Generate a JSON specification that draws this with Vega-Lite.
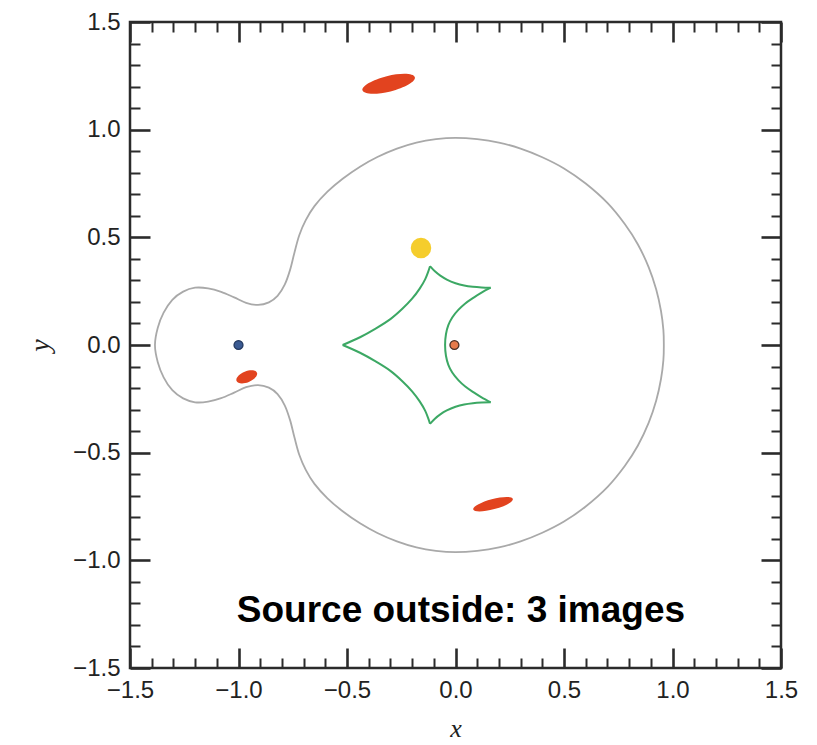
{
  "$schema": "https://vega.github.io/schema/vega-lite/v6.json",
  "autosize": {"type": "none"},
  "padding": {"left": 130, "top": 22, "right": 36, "bottom": 77},
  "width": 651,
  "height": 646,
  "background": "white",
  "config": {
    "view": {"stroke": "#2b2b2b", "strokeWidth": 2.5},
    "axis": {
      "grid": false,
      "domain": false,
      "labelFont": "Liberation Sans",
      "labelFontSize": 24,
      "labelColor": "#222222",
      "labelFlush": false,
      "labelOverlap": false,
      "labelBound": false,
      "tickColor": "#2b2b2b",
      "titleColor": "#222222"
    }
  },
  "datasets": {
    "crit": [
      {"o": 0, "x": -1.385, "y": 0.0},
      {"o": 1, "x": -1.372, "y": 0.08},
      {"o": 2, "x": -1.345, "y": 0.15},
      {"o": 3, "x": -1.305, "y": 0.21},
      {"o": 4, "x": -1.255, "y": 0.248},
      {"o": 5, "x": -1.2, "y": 0.266},
      {"o": 6, "x": -1.14, "y": 0.263},
      {"o": 7, "x": -1.08, "y": 0.247},
      {"o": 8, "x": -1.02, "y": 0.221},
      {"o": 9, "x": -0.965, "y": 0.196},
      {"o": 10, "x": -0.91, "y": 0.186},
      {"o": 11, "x": -0.86, "y": 0.198},
      {"o": 12, "x": -0.82, "y": 0.228},
      {"o": 13, "x": -0.787, "y": 0.28},
      {"o": 14, "x": -0.762, "y": 0.35},
      {"o": 15, "x": -0.742, "y": 0.43},
      {"o": 16, "x": -0.72, "y": 0.51},
      {"o": 17, "x": -0.69, "y": 0.58},
      {"o": 18, "x": -0.65, "y": 0.645},
      {"o": 19, "x": -0.59, "y": 0.712},
      {"o": 20, "x": -0.52, "y": 0.772},
      {"o": 21, "x": -0.44, "y": 0.828},
      {"o": 22, "x": -0.36, "y": 0.873},
      {"o": 23, "x": -0.27, "y": 0.912},
      {"o": 24, "x": -0.18, "y": 0.94},
      {"o": 25, "x": -0.09, "y": 0.956},
      {"o": 26, "x": 0.0, "y": 0.962},
      {"o": 27, "x": 0.1, "y": 0.956},
      {"o": 28, "x": 0.2, "y": 0.94},
      {"o": 29, "x": 0.3, "y": 0.912},
      {"o": 30, "x": 0.4, "y": 0.872},
      {"o": 31, "x": 0.5, "y": 0.82},
      {"o": 32, "x": 0.6, "y": 0.75},
      {"o": 33, "x": 0.7, "y": 0.66},
      {"o": 34, "x": 0.78, "y": 0.562},
      {"o": 35, "x": 0.84, "y": 0.468},
      {"o": 36, "x": 0.89, "y": 0.362},
      {"o": 37, "x": 0.925, "y": 0.258},
      {"o": 38, "x": 0.947, "y": 0.158},
      {"o": 39, "x": 0.958, "y": 0.07},
      {"o": 40, "x": 0.96, "y": 0.0},
      {"o": 41, "x": 0.958, "y": -0.07},
      {"o": 42, "x": 0.947, "y": -0.158},
      {"o": 43, "x": 0.925, "y": -0.258},
      {"o": 44, "x": 0.89, "y": -0.362},
      {"o": 45, "x": 0.84, "y": -0.468},
      {"o": 46, "x": 0.78, "y": -0.562},
      {"o": 47, "x": 0.7, "y": -0.66},
      {"o": 48, "x": 0.6, "y": -0.75},
      {"o": 49, "x": 0.5, "y": -0.82},
      {"o": 50, "x": 0.4, "y": -0.872},
      {"o": 51, "x": 0.3, "y": -0.912},
      {"o": 52, "x": 0.2, "y": -0.94},
      {"o": 53, "x": 0.1, "y": -0.956},
      {"o": 54, "x": 0.0, "y": -0.962},
      {"o": 55, "x": -0.09, "y": -0.956},
      {"o": 56, "x": -0.18, "y": -0.94},
      {"o": 57, "x": -0.27, "y": -0.912},
      {"o": 58, "x": -0.36, "y": -0.873},
      {"o": 59, "x": -0.44, "y": -0.828},
      {"o": 60, "x": -0.52, "y": -0.772},
      {"o": 61, "x": -0.59, "y": -0.712},
      {"o": 62, "x": -0.65, "y": -0.645},
      {"o": 63, "x": -0.69, "y": -0.58},
      {"o": 64, "x": -0.72, "y": -0.51},
      {"o": 65, "x": -0.742, "y": -0.43},
      {"o": 66, "x": -0.762, "y": -0.35},
      {"o": 67, "x": -0.787, "y": -0.28},
      {"o": 68, "x": -0.82, "y": -0.228},
      {"o": 69, "x": -0.86, "y": -0.198},
      {"o": 70, "x": -0.91, "y": -0.186},
      {"o": 71, "x": -0.965, "y": -0.196},
      {"o": 72, "x": -1.02, "y": -0.221},
      {"o": 73, "x": -1.08, "y": -0.247},
      {"o": 74, "x": -1.14, "y": -0.263},
      {"o": 75, "x": -1.2, "y": -0.266},
      {"o": 76, "x": -1.255, "y": -0.248},
      {"o": 77, "x": -1.305, "y": -0.21},
      {"o": 78, "x": -1.345, "y": -0.15},
      {"o": 79, "x": -1.372, "y": -0.08}
    ],
    "caustic": [
      {"s": 1, "o": 0, "x": -0.52, "y": 0.0},
      {"s": 1, "o": 1, "x": -0.44, "y": 0.036},
      {"s": 1, "o": 2, "x": -0.37, "y": 0.075},
      {"s": 1, "o": 3, "x": -0.3, "y": 0.12},
      {"s": 1, "o": 4, "x": -0.245, "y": 0.168},
      {"s": 1, "o": 5, "x": -0.2, "y": 0.215},
      {"s": 1, "o": 6, "x": -0.165, "y": 0.262},
      {"s": 1, "o": 7, "x": -0.14, "y": 0.305},
      {"s": 1, "o": 8, "x": -0.126, "y": 0.34},
      {"s": 1, "o": 9, "x": -0.1175, "y": 0.366},
      {"s": 2, "o": 0, "x": -0.1175, "y": 0.366},
      {"s": 2, "o": 1, "x": -0.095, "y": 0.342},
      {"s": 2, "o": 2, "x": -0.07, "y": 0.322},
      {"s": 2, "o": 3, "x": -0.04, "y": 0.304},
      {"s": 2, "o": 4, "x": 0.0, "y": 0.287},
      {"s": 2, "o": 5, "x": 0.04, "y": 0.276},
      {"s": 2, "o": 6, "x": 0.08, "y": 0.27},
      {"s": 2, "o": 7, "x": 0.12, "y": 0.267},
      {"s": 2, "o": 8, "x": 0.162, "y": 0.266},
      {"s": 3, "o": 0, "x": 0.162, "y": 0.266},
      {"s": 3, "o": 1, "x": 0.12, "y": 0.243},
      {"s": 3, "o": 2, "x": 0.082, "y": 0.219},
      {"s": 3, "o": 3, "x": 0.045, "y": 0.193},
      {"s": 3, "o": 4, "x": 0.013, "y": 0.163},
      {"s": 3, "o": 5, "x": -0.015, "y": 0.128},
      {"s": 3, "o": 6, "x": -0.033, "y": 0.092},
      {"s": 3, "o": 7, "x": -0.044, "y": 0.05},
      {"s": 3, "o": 8, "x": -0.048, "y": 0.0},
      {"s": 3, "o": 9, "x": -0.044, "y": -0.05},
      {"s": 3, "o": 10, "x": -0.033, "y": -0.092},
      {"s": 3, "o": 11, "x": -0.015, "y": -0.128},
      {"s": 3, "o": 12, "x": 0.013, "y": -0.163},
      {"s": 3, "o": 13, "x": 0.045, "y": -0.193},
      {"s": 3, "o": 14, "x": 0.082, "y": -0.219},
      {"s": 3, "o": 15, "x": 0.12, "y": -0.243},
      {"s": 3, "o": 16, "x": 0.162, "y": -0.266},
      {"s": 4, "o": 0, "x": 0.162, "y": -0.266},
      {"s": 4, "o": 1, "x": 0.12, "y": -0.267},
      {"s": 4, "o": 2, "x": 0.08, "y": -0.27},
      {"s": 4, "o": 3, "x": 0.04, "y": -0.276},
      {"s": 4, "o": 4, "x": 0.0, "y": -0.287},
      {"s": 4, "o": 5, "x": -0.04, "y": -0.304},
      {"s": 4, "o": 6, "x": -0.07, "y": -0.322},
      {"s": 4, "o": 7, "x": -0.095, "y": -0.342},
      {"s": 4, "o": 8, "x": -0.1175, "y": -0.366},
      {"s": 5, "o": 0, "x": -0.1175, "y": -0.366},
      {"s": 5, "o": 1, "x": -0.126, "y": -0.34},
      {"s": 5, "o": 2, "x": -0.14, "y": -0.305},
      {"s": 5, "o": 3, "x": -0.165, "y": -0.262},
      {"s": 5, "o": 4, "x": -0.2, "y": -0.215},
      {"s": 5, "o": 5, "x": -0.245, "y": -0.168},
      {"s": 5, "o": 6, "x": -0.3, "y": -0.12},
      {"s": 5, "o": 7, "x": -0.37, "y": -0.075},
      {"s": 5, "o": 8, "x": -0.44, "y": -0.036},
      {"s": 5, "o": 9, "x": -0.52, "y": 0.0}
    ],
    "images": [
      {"id": "A", "x": -0.308, "y": 1.213},
      {"id": "B", "x": 0.173, "y": -0.739},
      {"id": "C", "x": -0.962, "y": -0.148}
    ],
    "lenses": [
      {"kind": "secondary", "x": -1.0, "y": 0.0},
      {"kind": "primary", "x": -0.005, "y": 0.0}
    ],
    "source": [
      {"x": -0.159, "y": 0.451}
    ],
    "note": [
      {"x": 0.025, "y": -1.286, "label": "Source outside: 3 images"}
    ]
  },
  "layer": [
    {
      "data": {"name": "crit"},
      "mark": {"type": "line", "interpolate": "cardinal-closed", "color": "#a9a9a9", "strokeWidth": 1.8},
      "encoding": {
        "x": {"field": "x", "type": "quantitative",
              "scale": {"domain": [-1.5, 1.5], "nice": false, "zero": false},
              "axis": {"orient": "bottom", "values": [-1.5, -1, -0.5, 0, 0.5, 1, 1.5], "format": ".1f",
                       "ticks": false, "labelPadding": 10,
                       "title": "x", "titleFont": "Liberation Serif", "titleFontStyle": "italic",
                       "titleFontWeight": "normal", "titleFontSize": 26, "titlePadding": 13}},
        "y": {"field": "y", "type": "quantitative",
              "scale": {"domain": [-1.5, 1.5], "nice": false, "zero": false},
              "axis": {"orient": "left", "values": [-1.5, -1, -0.5, 0, 0.5, 1, 1.5], "format": ".1f",
                       "ticks": false, "labelPadding": 10,
                       "title": "y", "titleFont": "Liberation Serif", "titleFontStyle": "italic",
                       "titleFontWeight": "normal", "titleFontSize": 28, "titlePadding": 18}},
        "order": {"field": "o", "type": "quantitative"}
      }
    },
    {
      "data": {"name": "caustic"},
      "mark": {"type": "line", "interpolate": "catmull-rom", "color": "#3ca864", "strokeWidth": 2},
      "encoding": {
        "x": {"field": "x", "type": "quantitative",
              "scale": {"domain": [-1.5, 1.5], "nice": false, "zero": false},
              "axis": {"orient": "bottom", "values": [-1.5, -1, -0.5, 0, 0.5, 1, 1.5],
                       "labels": false, "title": null, "tickSize": -20, "tickWidth": 2.6}},
        "y": {"field": "y", "type": "quantitative",
              "scale": {"domain": [-1.5, 1.5], "nice": false, "zero": false},
              "axis": {"orient": "left", "values": [-1.5, -1, -0.5, 0, 0.5, 1, 1.5],
                       "labels": false, "title": null, "tickSize": -20, "tickWidth": 2.6}},
        "detail": {"field": "s", "type": "nominal"},
        "order": {"field": "o", "type": "quantitative"}
      }
    },
    {
      "data": {"name": "images"},
      "transform": [{"filter": "datum.id === 'A'"}],
      "mark": {"type": "point", "filled": true, "color": "#e2431f", "opacity": 1, "size": 2916, "angle": -14,
               "shape": "M-1,0C-1,-0.16 -0.5523,-0.29 0,-0.29C0.5523,-0.29 1,-0.16 1,0C1,0.16 0.5523,0.29 0,0.29C-0.5523,0.29 -1,0.16 -1,0Z"},
      "encoding": {
        "x": {"field": "x", "type": "quantitative",
              "scale": {"domain": [-1.5, 1.5], "nice": false, "zero": false},
              "axis": {"orient": "top", "values": [-1.5, -1, -0.5, 0, 0.5, 1, 1.5],
                       "labels": false, "title": null, "tickSize": -20, "tickWidth": 2.6}},
        "y": {"field": "y", "type": "quantitative",
              "scale": {"domain": [-1.5, 1.5], "nice": false, "zero": false},
              "axis": {"orient": "right", "values": [-1.5, -1, -0.5, 0, 0.5, 1, 1.5],
                       "labels": false, "title": null, "tickSize": -20, "tickWidth": 2.6}}
      }
    },
    {
      "data": {"name": "images"},
      "transform": [{"filter": "datum.id === 'B'"}],
      "mark": {"type": "point", "filled": true, "color": "#e2431f", "opacity": 1, "size": 1681, "angle": -15,
               "shape": "M-1,0C-1,-0.138 -0.5523,-0.25 0,-0.25C0.5523,-0.25 1,-0.138 1,0C1,0.138 0.5523,0.25 0,0.25C-0.5523,0.25 -1,0.138 -1,0Z"},
      "encoding": {
        "x": {"field": "x", "type": "quantitative",
              "scale": {"domain": [-1.5, 1.5], "nice": false, "zero": false},
              "axis": {"orient": "bottom",
                       "values": [-1.4, -1.3, -1.2, -1.1, -0.9, -0.8, -0.7, -0.6, -0.4, -0.3, -0.2, -0.1, 0.1, 0.2, 0.3, 0.4, 0.6, 0.7, 0.8, 0.9, 1.1, 1.2, 1.3, 1.4],
                       "labels": false, "title": null, "tickSize": -10, "tickWidth": 2}},
        "y": {"field": "y", "type": "quantitative",
              "scale": {"domain": [-1.5, 1.5], "nice": false, "zero": false},
              "axis": {"orient": "left",
                       "values": [-1.4, -1.3, -1.2, -1.1, -0.9, -0.8, -0.7, -0.6, -0.4, -0.3, -0.2, -0.1, 0.1, 0.2, 0.3, 0.4, 0.6, 0.7, 0.8, 0.9, 1.1, 1.2, 1.3, 1.4],
                       "labels": false, "title": null, "tickSize": -10, "tickWidth": 2}}
      }
    },
    {
      "data": {"name": "images"},
      "transform": [{"filter": "datum.id === 'C'"}],
      "mark": {"type": "point", "filled": true, "color": "#e2431f", "opacity": 1, "size": 484, "angle": -22,
               "shape": "M-1,0C-1,-0.276 -0.5523,-0.5 0,-0.5C0.5523,-0.5 1,-0.276 1,0C1,0.276 0.5523,0.5 0,0.5C-0.5523,0.5 -1,0.276 -1,0Z"},
      "encoding": {
        "x": {"field": "x", "type": "quantitative",
              "scale": {"domain": [-1.5, 1.5], "nice": false, "zero": false},
              "axis": {"orient": "top",
                       "values": [-1.4, -1.3, -1.2, -1.1, -0.9, -0.8, -0.7, -0.6, -0.4, -0.3, -0.2, -0.1, 0.1, 0.2, 0.3, 0.4, 0.6, 0.7, 0.8, 0.9, 1.1, 1.2, 1.3, 1.4],
                       "labels": false, "title": null, "tickSize": -10, "tickWidth": 2}},
        "y": {"field": "y", "type": "quantitative",
              "scale": {"domain": [-1.5, 1.5], "nice": false, "zero": false},
              "axis": {"orient": "right",
                       "values": [-1.4, -1.3, -1.2, -1.1, -0.9, -0.8, -0.7, -0.6, -0.4, -0.3, -0.2, -0.1, 0.1, 0.2, 0.3, 0.4, 0.6, 0.7, 0.8, 0.9, 1.1, 1.2, 1.3, 1.4],
                       "labels": false, "title": null, "tickSize": -10, "tickWidth": 2}}
      }
    },
    {
      "data": {"name": "source"},
      "mark": {"type": "circle", "color": "#f5cd2c", "opacity": 1, "size": 420},
      "encoding": {
        "x": {"field": "x", "type": "quantitative", "scale": {"domain": [-1.5, 1.5], "nice": false, "zero": false}, "axis": null},
        "y": {"field": "y", "type": "quantitative", "scale": {"domain": [-1.5, 1.5], "nice": false, "zero": false}, "axis": null}
      }
    },
    {
      "data": {"name": "lenses"},
      "mark": {"type": "circle", "opacity": 1, "size": 80, "strokeWidth": 1.3},
      "encoding": {
        "x": {"field": "x", "type": "quantitative", "scale": {"domain": [-1.5, 1.5], "nice": false, "zero": false}, "axis": null},
        "y": {"field": "y", "type": "quantitative", "scale": {"domain": [-1.5, 1.5], "nice": false, "zero": false}, "axis": null},
        "fill": {"field": "kind", "type": "nominal", "scale": {"domain": ["secondary", "primary"], "range": ["#3a5a92", "#e67a4a"]}, "legend": null},
        "stroke": {"field": "kind", "type": "nominal", "scale": {"domain": ["secondary", "primary"], "range": ["#243a60", "#4a3026"]}, "legend": null}
      }
    },
    {
      "data": {"name": "note"},
      "mark": {"type": "text", "font": "Liberation Sans", "fontWeight": "bold", "fontSize": 37, "align": "center", "baseline": "alphabetic", "color": "#000000"},
      "encoding": {
        "x": {"field": "x", "type": "quantitative", "scale": {"domain": [-1.5, 1.5], "nice": false, "zero": false}, "axis": null},
        "y": {"field": "y", "type": "quantitative", "scale": {"domain": [-1.5, 1.5], "nice": false, "zero": false}, "axis": null},
        "text": {"field": "label"}
      }
    }
  ],
  "resolve": {"axis": {"x": "independent", "y": "independent"}}
}
